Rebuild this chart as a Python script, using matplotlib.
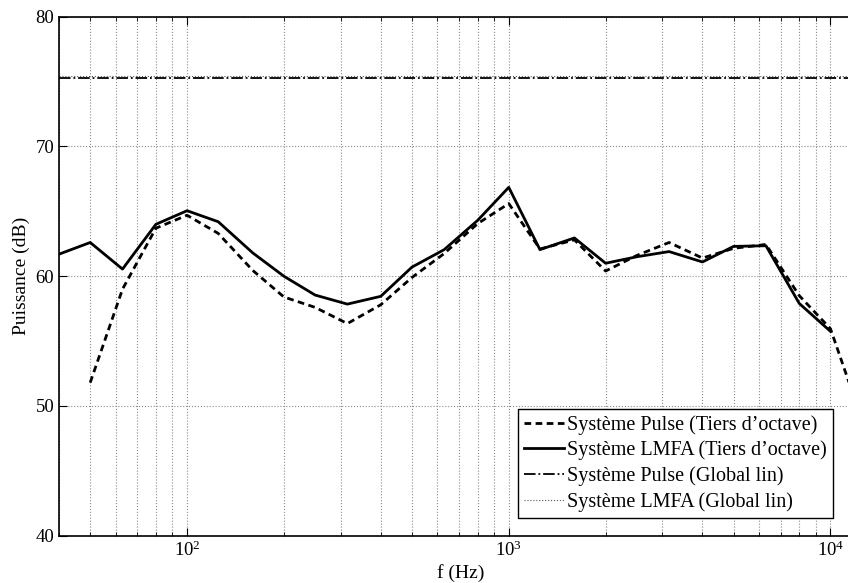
import numpy as np
import matplotlib
matplotlib.use("Agg")
import matplotlib.pyplot as plt
from matplotlib.ticker import LogLocator, NullFormatter

plt.rcParams.update({"font.family": "serif", "font.serif": ["Liberation Serif", "DejaVu Serif"],
                     "mathtext.fontset": "stix", "font.size": 13})

# third-octave bands (Hz)
freq_lmfa = [40, 50, 63, 80, 100, 125, 160, 200, 250, 315, 400, 500, 630, 800,
             1000, 1250, 1600, 2000, 2500, 3150, 4000, 5000, 6300, 8000, 10000]
lmfa_tiers = [61.7, 62.6, 60.55, 64.0, 65.05, 64.2, 61.8, 60.0, 58.55, 57.85, 58.45, 60.7,
              62.05, 64.3, 66.85, 62.05, 62.95, 61.0, 61.5, 61.9, 61.1, 62.3, 62.35, 57.9, 55.75]

freq_pulse = [50, 63, 80, 100, 125, 160, 200, 250, 315, 400, 500, 630, 800,
              1000, 1250, 1600, 2000, 2500, 3150, 4000, 5000, 6300, 8000, 10000, 12500]
pulse_tiers = [51.8, 59.0, 63.7, 64.7, 63.3, 60.45, 58.4, 57.6, 56.35, 57.8, 59.9, 61.75,
               64.05, 65.6, 62.1, 62.8, 60.4, 61.6, 62.6, 61.4, 62.15, 62.45, 58.5, 55.95, 49.0]

pulse_global = 75.25
lmfa_global = 75.45

fig = plt.figure(figsize=(8.48, 5.83), dpi=100)
ax = fig.add_axes([0.0696, 0.0811, 0.9465, 0.8902])

ax.semilogx(freq_pulse, pulse_tiers, color="k", lw=2, ls=(0, (2.4, 1.6)),
            label="Système Pulse (Tiers d’octave)")
ax.semilogx(freq_lmfa, lmfa_tiers, color="k", lw=2, label="Système LMFA (Tiers d’octave)")
ax.axhline(pulse_global, color="k", lw=1.3, ls="-.", label="Système Pulse (Global lin)")
ax.axhline(lmfa_global, color="0.35", lw=0.8, ls=":", label="Système LMFA (Global lin)")

ax.set_xlim(40, 12500)
ax.set_ylim(40, 80)
ax.set_yticks([40, 50, 60, 70, 80])
ax.xaxis.set_major_locator(LogLocator(base=10))
ax.xaxis.set_minor_locator(LogLocator(base=10, subs=np.arange(2, 10)))
ax.xaxis.set_minor_formatter(NullFormatter())
ax.grid(True, which="major", ls=":", color="0.55", lw=0.8)
ax.grid(True, which="minor", axis="x", ls=":", color="0.55", lw=0.8)
ax.tick_params(which="both", direction="in", top=True, right=True, labelsize=13.5)
ax.tick_params(which="major", length=6)
ax.tick_params(which="minor", length=3)
for s in ax.spines.values():
    s.set_linewidth(1.2)

ax.set_xlabel("f (Hz)", fontsize=14, labelpad=3)
ax.set_ylabel("Puissance (dB)", fontsize=14, labelpad=4)

leg = ax.legend(loc="lower right", bbox_to_anchor=(0.964, 0.034), borderaxespad=0,
                fontsize=14.5, handlelength=2.0, handletextpad=0.15, borderpad=0.3,
                labelspacing=0.3, fancybox=False, framealpha=1, edgecolor="k")
leg.get_frame().set_linewidth(1.0)

fig.savefig("out.png", dpi=100, facecolor="white")
